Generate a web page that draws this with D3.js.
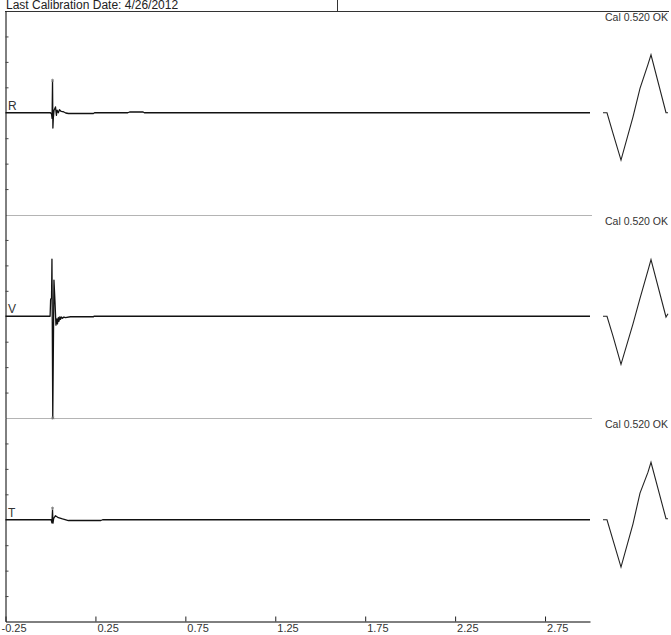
<!DOCTYPE html>
<html>
<head>
<meta charset="utf-8">
<script src="https://cdn.jsdelivr.net/npm/d3@7"></script>
<style>
  html, body { margin: 0; padding: 0; background: #fff; }
  svg { display: block; font-family: "Liberation Sans", Arial, sans-serif; }
</style>
</head>
<body>
<svg id="chart" width="671" height="635"></svg>
<script>
// ---------------- data ----------------
const headerText = "Last Calibration Date: 4/26/2012";
const channels = ["R", "V", "T"];
const calLabels = ["Cal 0.520 OK", "Cal 0.520 OK", "Cal 0.520 OK"];

const xTickValues = [-0.25, 0.25, 0.75, 1.25, 1.75, 2.25, 2.75];
const xTickLabels = ["-0.25", "0.25", "0.75", "1.25", "1.75", "2.25", "2.75"];
const yTickValues = [-3, -2, -1, 1, 2, 3];

// channel R (time, value in division units)
const rTime  = [-0.25, 0.000, 0.006, 0.009, 0.0115, 0.0135, 0.016, 0.020, 0.028, 0.033, 0.037, 0.044, 0.050, 0.060, 0.072, 0.085, 0.100, 0.239, 0.245, 0.430, 0.440, 0.515, 0.522, 3.00];
const rValue = [0,     0,     -0.05, -0.22, 1.25,   -0.60,  -0.20, 0.10,  0.23,  -0.10, 0.10,  0.00,  0.12,  0.05,  0.04,  -0.01, -0.03, -0.03, 0.00,  0.00,  0.03,  0.03,  0.00,  0];

// channel V
const vTime  = [-0.25, -0.002, 0.001, 0.006, 0.0083, 0.0128, 0.0194, 0.025, 0.0306, 0.036, 0.039, 0.044, 0.047, 0.053, 0.056, 0.062, 0.067, 0.075, 0.083, 0.111, 0.239, 0.242, 3.00];
const vValue = [0,     0,      0.68,  0.70,  2.24,   -4.00,  1.42,   0.60,  -0.35,  -0.10, -0.30, -0.05, -0.20, -0.02, -0.12, -0.03, -0.08, -0.03, -0.05, -0.02, -0.02, 0.00,  0];

// channel T
const tTime  = [-0.25, 0.004, 0.008, 0.0115, 0.014, 0.018, 0.028, 0.044, 0.067, 0.100, 0.280, 0.290, 3.00];
const tValue = [0,     0,     -0.12, 0.38,   -0.13, 0.05,  0.16,  0.08,  0.03,  -0.03, -0.03, 0.00,  0];

// trigger markers (time, value) per channel
const markerTime  = [0.0115, 0.0128, 0.0115];
const markerValue = [1.27,   -4.00,  0.45];

// calibration pulses (offset, value) per channel
const calOffset = [0, 4, 10, 18, 30, 37, 45, 48, 63, 65];
const calR = [0, 0, -0.81, -1.86, -0.16, 0.96, 1.90, 2.28, 0.00, 0.00];
const calV = [0, 0, -0.78, -1.89, -0.30, 0.70, 1.80, 2.23, -0.03, 0.10];
const calT = [0, 0, -0.80, -1.86, -0.16, 1.05, 1.87, 2.26, 0.04, 0.04];

// ---------------- drawing ----------------
const svg = d3.select("#chart");
const plotTop = 11, plotBottom = 621.5;
const panelH = (plotBottom - plotTop) / 3;

const x = d3.scaleLinear().domain([-0.25, 3.0]).range([5.5, 590]);
const calX = d3.scaleLinear().domain([0, 65]).range([603, 668]);
const yScales = channels.map((c, i) =>
  d3.scaleLinear().domain([-4, 4]).range([plotTop + panelH * (i + 1), plotTop + panelH * i]));

const traces = [
  rTime.map((t, i) => ({ t, v: rValue[i] })),
  vTime.map((t, i) => ({ t, v: vValue[i] })),
  tTime.map((t, i) => ({ t, v: tValue[i] }))
];
const cals = [calR, calV, calT].map(arr => calOffset.map((o, i) => ({ o, v: arr[i] })));

// header
svg.append("text")
  .attr("x", 6).attr("y", 9)
  .attr("font-size", 12).attr("fill", "#222")
  .text(headerText);
svg.append("line")
  .attr("x1", 337.5).attr("x2", 337.5).attr("y1", 0).attr("y2", 11)
  .attr("stroke", "#333");
svg.append("line")
  .attr("x1", 5).attr("x2", 669).attr("y1", 11.5).attr("y2", 11.5)
  .attr("stroke", "#333");

// separators
[1, 2].forEach(i => {
  const yy = Math.round(plotTop + panelH * i) + 0.5;
  svg.append("line")
    .attr("x1", 6).attr("x2", 592).attr("y1", yy).attr("y2", yy)
    .attr("stroke", "#b4b4b4").attr("stroke-width", 1);
});

// left axis per panel
channels.forEach((c, i) => {
  const g = svg.append("g").attr("transform", "translate(5.5,0)")
    .call(d3.axisRight(yScales[i]).tickValues(yTickValues).tickSizeInner(3).tickSizeOuter(0).tickFormat(""));
  g.select(".domain").attr("stroke", "#000");
  g.selectAll(".tick line").attr("stroke", "#444");
});

// channel labels
channels.forEach((c, i) => {
  svg.append("text")
    .attr("x", 8).attr("y", yScales[i](0) - 3)
    .attr("font-size", 12).attr("fill", "#333")
    .text(c);
});

// bottom axis
const xAxis = svg.append("g")
  .attr("transform", `translate(0,${plotBottom})`)
  .call(d3.axisBottom(x).tickValues(xTickValues)
        .tickFormat((d, i) => xTickLabels[i])
        .tickSizeInner(-5).tickSizeOuter(0).tickPadding(2.5));
xAxis.select(".domain").attr("stroke", "#000");
xAxis.selectAll(".tick line").attr("stroke", "#222");
xAxis.selectAll(".tick text")
  .attr("text-anchor", "start")
  .attr("font-size", 11)
  .attr("font-family", "\"Liberation Sans\", Arial, sans-serif")
  .attr("fill", "#333")
  .attr("dx", (d, i) => xTickLabels[i].startsWith("-") ? -4.5 : 1.5);

// traces
const line = (ys) => d3.line().x(d => x(d.t)).y(d => ys(d.v));
traces.forEach((tr, i) => {
  svg.append("path")
    .datum(tr)
    .attr("d", line(yScales[i]))
    .attr("fill", "none")
    .attr("stroke", "#111")
    .attr("stroke-width", 1.3)
    .attr("stroke-linejoin", "round");
});

// markers
channels.forEach((c, i) => {
  svg.append("path")
    .attr("d", d3.symbol(d3.symbolAsterisk, 8)())
    .attr("transform", `translate(${x(markerTime[i])},${yScales[i](markerValue[i])})`)
    .attr("fill", "none").attr("stroke", "#777").attr("stroke-width", 0.8);
});

// calibration pulses and labels
cals.forEach((cd, i) => {
  svg.append("path")
    .datum(cd)
    .attr("d", d3.line().x(d => calX(d.o)).y(d => yScales[i](d.v)))
    .attr("fill", "none")
    .attr("stroke", "#222")
    .attr("stroke-width", 1.1);
  svg.append("text")
    .attr("x", 668).attr("y", plotTop + panelH * i + 10)
    .attr("text-anchor", "end")
    .attr("font-size", 10.5).attr("fill", "#333")
    .text(calLabels[i]);
});
</script>
</body>
</html>
